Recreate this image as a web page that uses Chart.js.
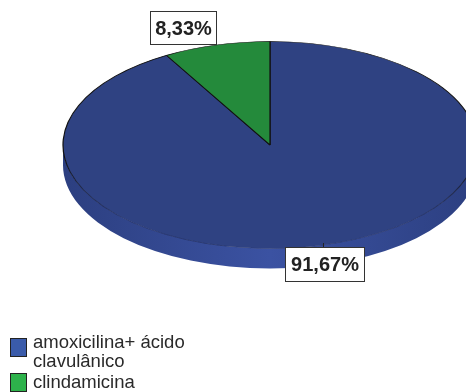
<!DOCTYPE html>
<html>
<head>
<meta charset="utf-8">
<title>Pie chart</title>
<script src="https://cdn.jsdelivr.net/npm/chart.js@4/dist/chart.umd.min.js"></script>
<style>
  html, body { margin: 0; padding: 0; background: #fff; overflow: hidden; }
  #wrap { position: relative; width: 466px; height: 392px; }
  #myChart { position: absolute; left: 0; top: 0; }
  .legend-item { position: absolute; left: 33px; width: 175px; font: 18.5px/19px "Liberation Sans", Arial, sans-serif; color: #2a2a2a; }
  .legend-box { position: absolute; left: 10px; width: 15px; height: 17px; border: 1px solid #222; }
</style>
</head>
<body>
<div id="wrap">
  <canvas id="myChart" width="466" height="392"></canvas>
  <div id="legend"></div>
</div>
<script>
"use strict";

/* data */
const categories = ["amoxicilina+ ácido clavulânico", "clindamicina"];
const seriesValues = [91.67, 8.33];
const valueLabels = ["91,67%", "8,33%"];

/* styles */
const sliceColors = ["#2f4282", "#248a3b"];
const legendColors = ["#3a5baa", "#2db24b"];
const labelBoxes = [
  { x: 285, y: 247, w: 80, h: 35 },
  { x: 150, y: 11, w: 67, h: 34 },
];
const legendTextTops = [332, 372];
const legendBoxTops = [338, 373];
const ellipseRx = 207;
const ellipseRy = 103.5;
const sideDepth = 20;

// Squash the round pie into the tilted ellipse and draw the rim below it
const tiltPlugin = {
  id: "tilt",
  beforeDatasetsDraw(chart) {
    const ctx = chart.ctx;
    const arc = chart.getDatasetMeta(0).data[0];
    const cx = arc.x;
    const cy = arc.y;
    // rim of the disc, only the front half can be seen
    const grad = ctx.createLinearGradient(cx - ellipseRx, 0, cx + ellipseRx, 0);
    grad.addColorStop(0, "#2c3f80");
    grad.addColorStop(0.5, "#3b52a2");
    grad.addColorStop(1, "#2c3f80");
    ctx.save();
    ctx.beginPath();
    ctx.ellipse(cx, cy, ellipseRx, ellipseRy, 0, 0, Math.PI);
    ctx.ellipse(cx, cy + sideDepth, ellipseRx, ellipseRy, 0, Math.PI, 0, true);
    ctx.closePath();
    ctx.fillStyle = grad;
    ctx.fill();
    ctx.restore();
    ctx.save();
    ctx.translate(cx, cy);
    ctx.scale(ellipseRx / arc.outerRadius, ellipseRy / arc.outerRadius);
    ctx.translate(-cx, -cy);
  },
  afterDatasetsDraw(chart) {
    chart.ctx.restore();
  },
  afterDraw(chart) {
    const ctx = chart.ctx;
    // small leader line above the big label
    ctx.save();
    ctx.strokeStyle = "#222";
    ctx.lineWidth = 1;
    ctx.beginPath();
    ctx.moveTo(323.5, 243);
    ctx.lineTo(323.5, 247);
    ctx.stroke();
    ctx.font = 'bold 20px "Liberation Sans", Arial, sans-serif';
    ctx.textAlign = "center";
    ctx.textBaseline = "middle";
    for (let i = 0; i < valueLabels.length; i++) {
      let box = labelBoxes[i];
      ctx.fillStyle = "#fff";
      ctx.fillRect(box.x, box.y, box.w, box.h);
      ctx.strokeStyle = "#333";
      ctx.strokeRect(box.x + 0.5, box.y + 0.5, box.w - 1, box.h - 1);
      ctx.fillStyle = "#222";
      ctx.fillText(valueLabels[i], box.x + box.w / 2, box.y + box.h / 2 + 1);
    }
    ctx.restore();
  },
};

function renderLegend() {
  let legend = document.getElementById("legend");
  for (let i = 0; i < categories.length; i++) {
    let item = document.createElement("div");
    item.className = "legend-item";
    item.style.top = legendTextTops[i] + "px";
    item.textContent = categories[i];
    legend.appendChild(item);
    let box = document.createElement("span");
    box.className = "legend-box";
    box.style.top = legendBoxTops[i] + "px";
    box.style.background = legendColors[i];
    legend.appendChild(box);
  }
}

// Outline is black along the back of the disc and fades to dark blue at the front
let canvasChart = document.getElementById("myChart");
let edgeGrad = canvasChart.getContext("2d").createLinearGradient(0, 45, 0, 245);
edgeGrad.addColorStop(0, "#111");
edgeGrad.addColorStop(0.55, "#111");
edgeGrad.addColorStop(0.85, "#26356e");
edgeGrad.addColorStop(1, "#26356e");

new Chart(canvasChart, {
  type: "pie",
  data: {
    labels: categories,
    datasets: [
      {
        data: seriesValues,
        backgroundColor: sliceColors,
        borderColor: edgeGrad,
        borderWidth: 0.6,
        clip: false,
      },
    ],
  },
  options: {
    responsive: false,
    animation: false,
    layout: { padding: { left: 170, right: 96, top: 45, bottom: 147 } },
    plugins: { legend: { display: false }, tooltip: { enabled: false } },
  },
  plugins: [tiltPlugin],
});

renderLegend();
</script>
</body>
</html>
